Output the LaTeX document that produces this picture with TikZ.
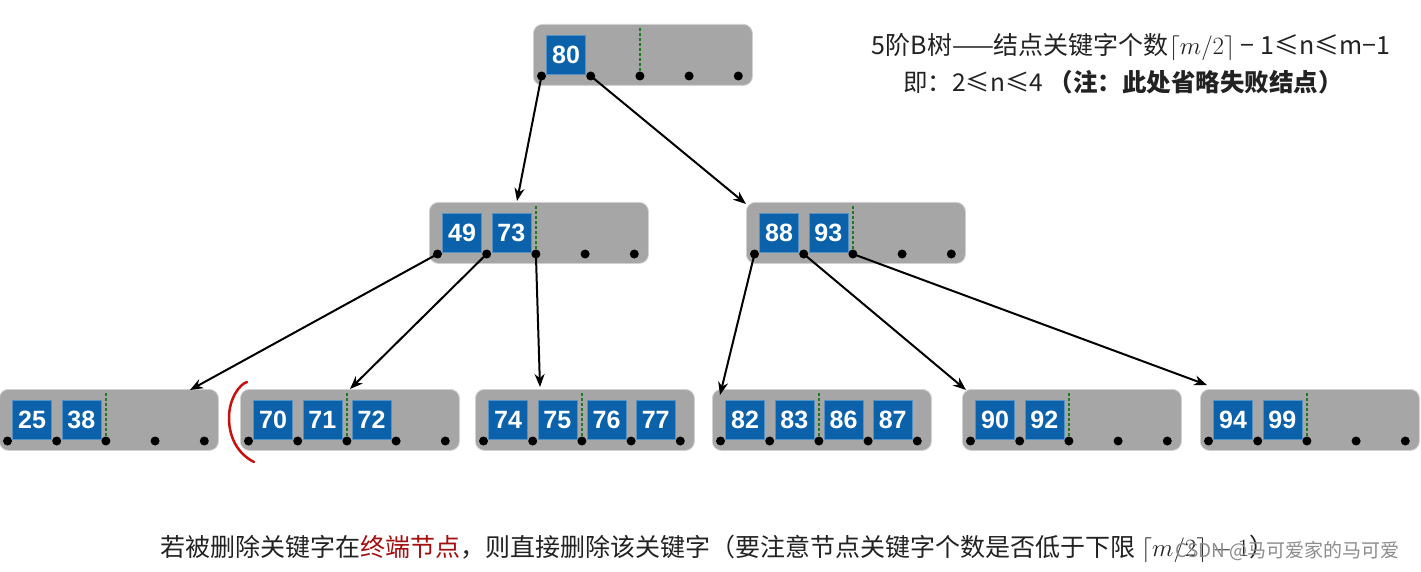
\documentclass[tikz,border=0pt]{standalone}
\usepackage{fontspec}
\usetikzlibrary{arrows.meta}
\newfontfamily\keyf{Liberation Sans}
\newfontfamily\cjk{Noto Sans CJK SC}
\definecolor{nodegray}{HTML}{A6A6A6}
\definecolor{keyblue}{HTML}{0B62AB}
\definecolor{dotgreen}{HTML}{1F7A1F}
\definecolor{darkred}{HTML}{A30E0E}
\definecolor{bracketred}{HTML}{C8100F}
\definecolor{txt}{HTML}{222222}
\tikzset{
  grayn/.style={draw=black!18, line width=0.8pt, fill=nodegray, rounded corners=9pt, minimum width=219pt, minimum height=61pt, inner sep=0pt, anchor=north west},
  keyn/.style={fill=keyblue, draw=keyblue!70!white, line width=0.5pt, minimum size=39pt, inner sep=0pt, text=white, font=\keyf\bfseries\fontsize{25}{25}\selectfont},
  dotn/.style={circle, fill=black, minimum size=9pt, inner sep=0pt},
  greendot/.style={dotgreen, line width=2.6pt, dash pattern=on 2.6pt off 2.4pt},
  arr/.style={line width=2pt, -{Stealth[length=13pt,width=10pt]}},
}
\newcommand\btn[4]{%
  \node[grayn] (#1) at (#2,#3) {};
  \draw[greendot] ({#2+8.5+98.4},{#3+4}) -- ({#2+8.5+98.4},{#3+52});
  \foreach \k [count=\j from 0] in {#4}
    \node[keyn] (#1-k\j) at ({#2+8.5+24.6+49.2*\j},{#3+31}) {\k};
  \foreach \i in {0,...,4}
    \node[dotn] (#1-d\i) at ({#2+8.5+49.2*\i},{#3+52}) {};
}
\begin{document}
\begin{tikzpicture}[x=1pt,y=-1pt]
\useasboundingbox[fill=white] (0,0) rectangle (1421,572);
% tree nodes
\btn{root}{533}{24}{80}
\btn{mA}{429}{202}{49,73}
\btn{mB}{746}{202}{88,93}
\btn{lA}{-1}{389}{25,38}
\btn{lB}{240}{389}{70,71,72}
\btn{lC}{475}{389}{74,75,76,77}
\btn{lD}{712}{389}{82,83,86,87}
\btn{lE}{962}{389}{90,92}
\btn{lF}{1200}{389}{94,99}
% arrow end points
\coordinate (t-mA) at (517,201);
\coordinate (t-mB) at (746,204);
\coordinate (t-lA) at (190,390);
\coordinate (t-lB) at (350,389);
\coordinate (t-lC) at (540,387);
\coordinate (t-lD) at (720,395);
\coordinate (t-lE) at (966,390);
\coordinate (t-lF) at (1207,385);
\draw[arr] (root-d0.center) -- (t-mA);
\draw[arr] (root-d1.center) -- (t-mB);
\draw[arr] (mA-d0.center) -- (t-lA);
\draw[arr] (mA-d1.center) -- (t-lB);
\draw[arr] (mA-d2.center) -- (t-lC);
\draw[arr] (mB-d0.center) -- (t-lD);
\draw[arr] (mB-d1.center) -- (t-lE);
\draw[arr] (mB-d2.center) -- (t-lF);
% red bracket
\draw[bracketred, line width=2.5pt, line cap=round] (247,382) .. controls (240,384) and (229,398) .. (229,418) .. controls (229,440) and (240,455) .. (254,462);
% texts
\node[text=txt, font=\cjk\fontsize{25}{25}\selectfont] (t1) at (1131,47) {5阶B树——结点关键字个数$\lceil m/2\rceil$ − 1≤n≤m−1};
\node[text=txt, font=\cjk\fontsize{24.5}{24.5}\selectfont] (t2) at (1123,82) {即：2≤n≤4 {\bfseries （注：此处省略失败结点）}};
\node[text=txt, anchor=west, font=\cjk\fontsize{25}{25}\selectfont] (t3) at (157,549) {若被删除关键字在\textcolor{darkred}{终端节点}，则直接删除该关键字（要注意节点关键字个数是否低于下限 $\lceil m/2\rceil - 1$）};
\node[text=black!45, anchor=west, font=\cjk\fontsize{19}{19}\selectfont] (wm) at (1172,551) {CSDN @马可爱家的马可爱};
\end{tikzpicture}
\end{document}
